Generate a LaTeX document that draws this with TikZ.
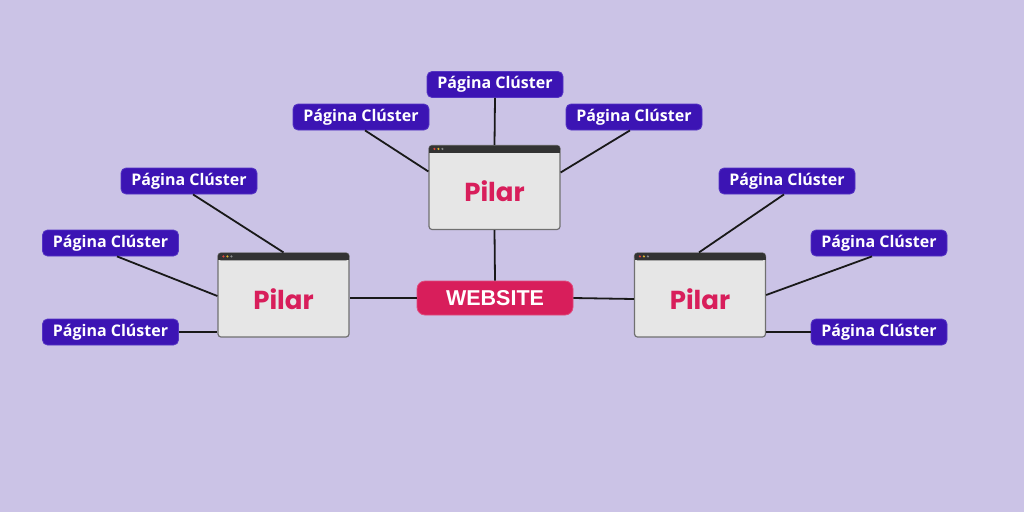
\documentclass[tikz,border=0pt]{standalone}
\usepackage{fontspec}
\usepackage{xcolor}
\usetikzlibrary{positioning}
\newfontfamily\clusterfont{Open Sans}
\newfontfamily\pilarfont{Poppins}
\newfontfamily\sitefont{Liberation Sans}
\definecolor{bgcol}{HTML}{CBC3E6}
\definecolor{clusterfill}{HTML}{3C14B4}
\definecolor{clusterline}{HTML}{5535C4}
\definecolor{crimson}{HTML}{D81E5B}
\definecolor{winfill}{HTML}{E6E6E6}
\definecolor{winline}{HTML}{707070}
\definecolor{barcol}{HTML}{333333}
\definecolor{dotred}{HTML}{E0443E}
\definecolor{dotyellow}{HTML}{D9B030}
\definecolor{dotgray}{HTML}{8A8A8A}

\tikzset{
  cluster/.style={draw=clusterline, line width=0.8pt, fill=clusterfill, rounded corners=5pt,
    minimum width=136pt, minimum height=26pt, inner sep=0pt, text=white,
    font=\clusterfont\bfseries\fontsize{16}{18}\selectfont},
  pillar/.style={draw=winline, line width=1.2pt, fill=winfill, rounded corners=3pt,
    minimum width=131pt, minimum height=84pt, inner sep=0pt},
  pilartext/.style={text=crimson, font=\pilarfont\bfseries\fontsize{26}{28}\selectfont},
  site/.style={draw=crimson!80!white, line width=0.8pt, fill=crimson, rounded corners=8pt,
    minimum width=156pt, minimum height=34pt, inner sep=0pt, text=white,
    font=\sitefont\bfseries\fontsize{21.5}{24}\selectfont},
  link/.style={line width=1.8pt, draw=black!90}
}

% title bar of a browser window
\newcommand{\winbar}[1]{%
  \fill[barcol, rounded corners=3pt] ([xshift=0.6pt,yshift=-0.6pt]#1.north west) rectangle ([xshift=-0.6pt,yshift=-8pt]#1.north east);
  \fill[barcol] ([xshift=0.6pt,yshift=-5pt]#1.north west) rectangle ([xshift=-0.6pt,yshift=-8pt]#1.north east);
  \fill[dotred]    ([xshift=6pt,yshift=-4pt]#1.north west) circle (1.2pt);
  \fill[dotyellow] ([xshift=10pt,yshift=-4pt]#1.north west) circle (1.2pt);
  \fill[dotgray]   ([xshift=14pt,yshift=-4pt]#1.north west) circle (1.2pt);
}

\begin{document}
\begin{tikzpicture}[x=1pt, y=-1pt]
  \fill[bgcol] (0,0) rectangle (1024,512);

  % pillar pages and the website
  \node[pillar] (tp) at (494.5,187.5) {};
  \node[pillar] (lp) at (283.5,295)   {};
  \node[pillar] (rp) at (700,295)     {};
  \winbar{tp}
  \winbar{lp}
  \winbar{rp}
  \node[pilartext] (tpl) at ([yshift=-4pt]tp.center) {Pilar};
  \node[pilartext] (lpl) at ([yshift=-4pt]lp.center) {Pilar};
  \node[pilartext] (rpl) at ([yshift=-4pt]rp.center) {Pilar};
  \node[site] (web) at (495,298) {WEBSITE};

  % cluster pages
  \node[cluster] (c1) at (495,84.5) {Página Clúster};
  \node[cluster] (c2) at (361,117)  {Página Clúster};
  \node[cluster] (c3) at (634,117)  {Página Clúster};
  \node[cluster] (c4) at (189,181)  {Página Clúster};
  \node[cluster] (c5) at (110.5,243) {Página Clúster};
  \node[cluster] (c6) at (110.5,332) {Página Clúster};
  \node[cluster] (c7) at (787,181)  {Página Clúster};
  \node[cluster] (c8) at (879,243)  {Página Clúster};
  \node[cluster] (c9) at (879,332)  {Página Clúster};

  % links
  \draw[link] (c1.south) -- (tp.north);
  \draw[link] ([xshift=4pt]c2.south) -- ([yshift=16pt]tp.west);
  \draw[link] ([xshift=-4pt]c3.south) -- ([yshift=15pt]tp.east);
  \draw[link] (tp.south) -- (web.north);
  \draw[link] (web.west) -- (web.west -| lp.east);
  \draw[link] (web.east) -- ([yshift=-1pt]web.east -| rp.west);
  \draw[link] ([xshift=4pt]c4.south) -- (lp.north);
  \draw[link] ([xshift=6.5pt]c5.south) -- ([yshift=-1pt]lp.west);
  \draw[link] (c6.east) -- (c6.east -| lp.west);
  \draw[link] ([xshift=-3pt]c7.south) -- ([xshift=-1pt]rp.north);
  \draw[link] ([xshift=-7pt]c8.south) -- (rp.east);
  \draw[link] (c9.west) -- (c9.west -| rp.east);
\end{tikzpicture}
\end{document}
